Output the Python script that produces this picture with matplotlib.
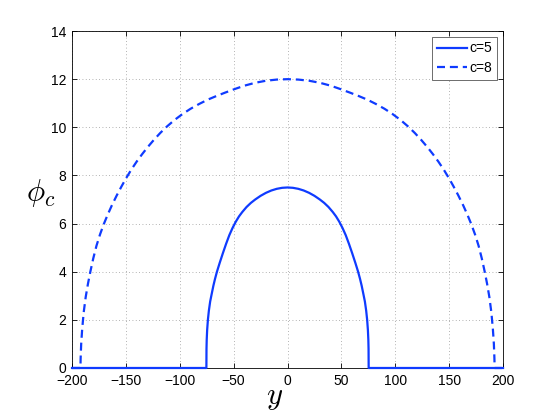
import matplotlib
matplotlib.use("Agg")
import matplotlib.pyplot as plt

# values
y_c5 = [-200, -75.3, -75.2, -75.0, -74.6, -73.9, -73.0, -71.8, -70.5, -68.8,
        -67.3, -65.5, -63.0, -60.0, -57.0, -54.0, -51.0, -48.0, -45.0, -42.0,
        -38.0, -34.0, -30.0, -25.0, -20.0, -15.0, -10.0, -5.0, 0.0,
        5.0, 10.0, 15.0, 20.0, 25.0, 30.0, 34.0, 38.0, 42.0, 45.0, 48.0, 51.0,
        54.0, 57.0, 60.0, 63.0, 65.5, 67.3, 68.8, 70.5, 71.8, 73.0, 73.9,
        74.6, 75.0, 75.2, 75.3, 200]
phi_c5 = [0.0, 0.0, 0.79, 1.17, 1.57, 2.0, 2.38, 2.76, 3.05, 3.42,
          3.7, 4.0, 4.36, 4.77, 5.16, 5.52, 5.82, 6.08, 6.3, 6.48,
          6.69, 6.86, 7.0, 7.153, 7.278, 7.375, 7.444, 7.486, 7.5,
          7.486, 7.444, 7.375, 7.278, 7.153, 7.0, 6.86, 6.69, 6.48, 6.3, 6.08, 5.82,
          5.52, 5.16, 4.77, 4.36, 4.0, 3.7, 3.42, 3.05, 2.76, 2.38, 2.0,
          1.57, 1.17, 0.79, 0.0, 0.0]

y_c8 = [-200, -192.2, -192.0, -191.5, -190.6, -189.2, -187.3, -185.2, -183.0,
        -180.3, -177.3, -174.0, -170.5, -167.0, -163.0, -158.5, -154.0, -150.0,
        -145.0, -140.0, -135.0, -130.0, -124.0, -118.0, -112.0, -105.0, -97.5,
        -90.0, -82.0, -74.0, -66.0, -58.0, -49.0, -40.0, -30.0, -20.0, -10.0,
        0.0,
        10.0, 20.0, 30.0, 40.0, 49.0, 58.0, 66.0, 74.0, 82.0, 90.0, 97.5,
        105.0, 112.0, 118.0, 124.0, 130.0, 135.0, 140.0, 145.0, 150.0, 154.0,
        158.5, 163.0, 167.0, 170.5, 174.0, 177.3, 180.3, 183.0, 185.2, 187.3,
        189.2, 190.6, 191.5, 192.0, 192.2, 200]
phi_c8 = [0.0, 0.0, 0.4, 1.0, 1.6, 2.3, 2.95, 3.5, 4.0,
          4.55, 5.08, 5.55, 5.98, 6.36, 6.76, 7.17, 7.55, 7.87,
          8.24, 8.575, 8.88, 9.165, 9.48, 9.77, 10.03, 10.3, 10.55,
          10.77, 10.97, 11.15, 11.3, 11.44, 11.59, 11.73, 11.85, 11.935, 11.983,
          12.0,
          11.983, 11.935, 11.85, 11.73, 11.59, 11.44, 11.3, 11.15, 10.97, 10.77, 10.55,
          10.3, 10.03, 9.77, 9.48, 9.165, 8.88, 8.575, 8.24, 7.87, 7.55,
          7.17, 6.76, 6.36, 5.98, 5.55, 5.08, 4.55, 4.0, 3.5, 2.95,
          2.3, 1.6, 1.0, 0.4, 0.0, 0.0]

x_ticks = [-200, -150, -100, -50, 0, 50, 100, 150, 200]
y_ticks = [0, 2, 4, 6, 8, 10, 12, 14]
labels = ["c=5", "c=8"]

plt.rcParams["font.family"] = ["Liberation Sans", "DejaVu Sans"]
plt.rcParams["mathtext.fontset"] = "cm"

fig = plt.figure(figsize=(5.54, 4.16), dpi=100)
ax = fig.add_axes([0.130, 0.1154, 0.778, 0.810])

blue = "#0f3bff"
ax.plot(y_c5, phi_c5, "-", color=blue, lw=1.6, label=labels[0],
        solid_joinstyle="round", clip_on=False, zorder=3)
ax.plot(y_c8, phi_c8, "--", color=blue, lw=1.6, dashes=(3.6, 2.2), label=labels[1],
        clip_on=False, zorder=3)

ax.set_xlim(-200, 200)
ax.set_ylim(0, 14)
ax.set_xticks(x_ticks)
ax.set_yticks(y_ticks)
ax.set_xticklabels([str(t).replace("-", "\u2212") for t in x_ticks])
ax.tick_params(direction="in", top=True, right=True, length=3.5, width=0.6,
               labelsize=10, pad=4)
ax.grid(True, linestyle=(0, (1, 3)), color="#9a9a9a", lw=0.6)
for sp in ax.spines.values():
    sp.set_linewidth(0.6)

ax.set_xlabel(r"$y$", fontsize=22)
ax.xaxis.set_label_coords(0.47, -0.085)
ax.xaxis.label.set_va("center")
ax.set_ylabel(r"$\phi_c$", fontsize=22, rotation=0)
ax.yaxis.set_label_coords(-0.072, 0.52)
ax.yaxis.label.set_va("center")
ax.yaxis.label.set_ha("center")

leg = ax.legend(loc="upper right", fontsize=10, fancybox=False, framealpha=1,
                edgecolor="#555555", handlelength=2.2, handletextpad=0.2,
                borderaxespad=0.4, borderpad=0.35, labelspacing=0.4)
leg.get_frame().set_linewidth(0.6)

fig.savefig("out.png", dpi=100)
